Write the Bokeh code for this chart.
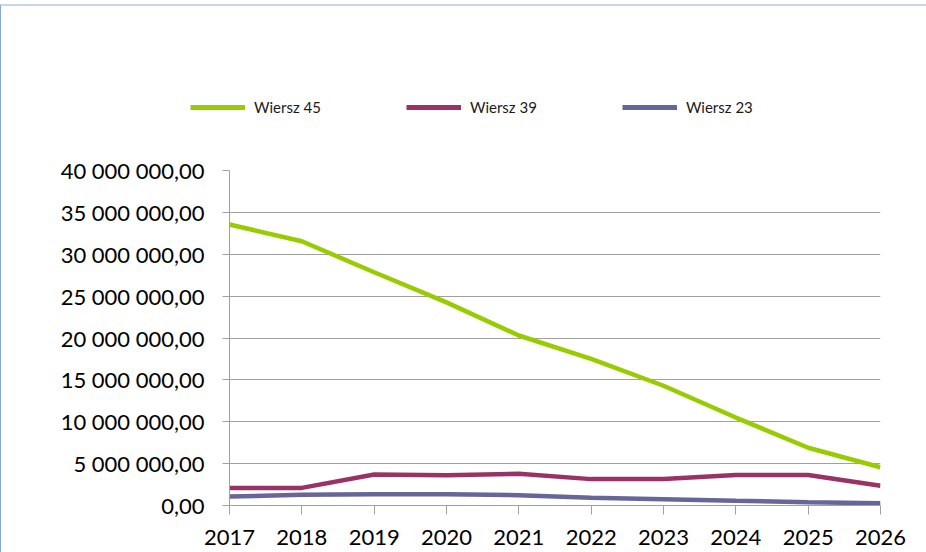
from bokeh.plotting import figure
from bokeh.layouts import column
from bokeh.models import Range1d, FixedTicker, Legend, LegendItem
from bokeh.embed import file_html
from bokeh.resources import INLINE

years = [2017, 2018, 2019, 2020, 2021, 2022, 2023, 2024, 2025, 2026]
wiersz45 = [33550000, 31550000, 27850000, 24250000, 20300000, 17500000, 14300000, 10500000, 6900000, 4570000]
wiersz39 = [2100000, 2100000, 3700000, 3600000, 3800000, 3150000, 3150000, 3650000, 3650000, 2350000]
wiersz23 = [1070000, 1280000, 1350000, 1350000, 1230000, 920000, 760000, 560000, 400000, 280000]
series_names = ["Wiersz 45", "Wiersz 39", "Wiersz 23"]
series_colors = ["#99cc00", "#993366", "#666699"]
y_ticks = [0, 5000000, 10000000, 15000000, 20000000, 25000000, 30000000, 35000000, 40000000]
y_labels = ["0,00", "5 000 000,00", "10 000 000,00", "15 000 000,00", "20 000 000,00",
            "25 000 000,00", "30 000 000,00", "35 000 000,00", "40 000 000,00"]

FONT = "Lato"
W = 925
TOP_H = 120
MAIN_H = 426
LEFT = 228

# legend strip (its lines lie outside the visible range; only the legend shows)
lg = figure(width=W, height=TOP_H, output_backend="svg", toolbar_location=None,
            x_range=Range1d(2017, 2026), y_range=Range1d(0, 1),
            min_border_left=0, min_border_right=0, min_border_top=0, min_border_bottom=0)
lg.axis.visible = False
lg.grid.visible = False
lg.outline_line_color = None
aligned = True
if "frame_align" in lg.properties():
    lg.frame_align = False
    aligned = False
leg_renderers = [lg.line(years, vals, line_color=c, line_width=5)
                 for vals, c in zip([wiersz45, wiersz39, wiersz23], series_colors)]
legend = Legend(items=[LegendItem(label=n, renderers=[r]) for n, r in zip(series_names, leg_renderers)],
                orientation="horizontal", location=((189 - LEFT) if aligned else 189, 9),
                label_text_font=FONT, label_text_font_size="15px", label_text_color="#1a1a1a",
                glyph_width=55, glyph_height=20, label_standoff=9, spacing=85,
                padding=0, margin=0, border_line_color=None, background_fill_alpha=0)
lg.add_layout(legend, "center")

# main chart
p = figure(width=W, height=MAIN_H, output_backend="svg", toolbar_location=None,
           x_range=Range1d(2017, 2026), y_range=Range1d(0, 40000000),
           min_border_left=LEFT, min_border_right=46, min_border_top=44, min_border_bottom=47)
p.outline_line_color = None
if not aligned:
    p.frame_align = False

for vals, c in zip([wiersz45, wiersz39, wiersz23], series_colors):
    p.line(years, vals, line_color=c, line_width=4.5)

p.xaxis.ticker = FixedTicker(ticks=years)
p.xaxis.major_label_overrides = {y: str(y) for y in years}
p.yaxis.ticker = FixedTicker(ticks=y_ticks)
p.yaxis.major_label_overrides = {t: l for t, l in zip(y_ticks, y_labels)}
for ax in (p.xaxis[0], p.yaxis[0]):
    ax.axis_line_color = "#a0a0a0"
    ax.major_tick_line_color = "#a0a0a0"
    ax.minor_tick_line_color = None
    ax.major_tick_in = 0
    ax.major_label_text_font = FONT
    ax.major_label_text_font_size = "22px"
    ax.major_label_text_color = "black"
p.xaxis.major_tick_out = 9
p.xaxis.major_label_standoff = 15
p.yaxis.major_tick_out = 7
p.yaxis.major_label_standoff = 18

p.xgrid.grid_line_color = None
p.ygrid.ticker = FixedTicker(ticks=y_ticks)
p.ygrid.grid_line_color = "#a0a0a0"
p.ygrid.grid_line_width = 1

layout = column(lg, p, spacing=0)
layout.styles = {"border-top": "2px solid #c9d4e6", "border-left": "1px solid #8aa6d6",
                 "margin-top": "4px"}

open("out.html", "w").write(file_html(layout, INLINE))
